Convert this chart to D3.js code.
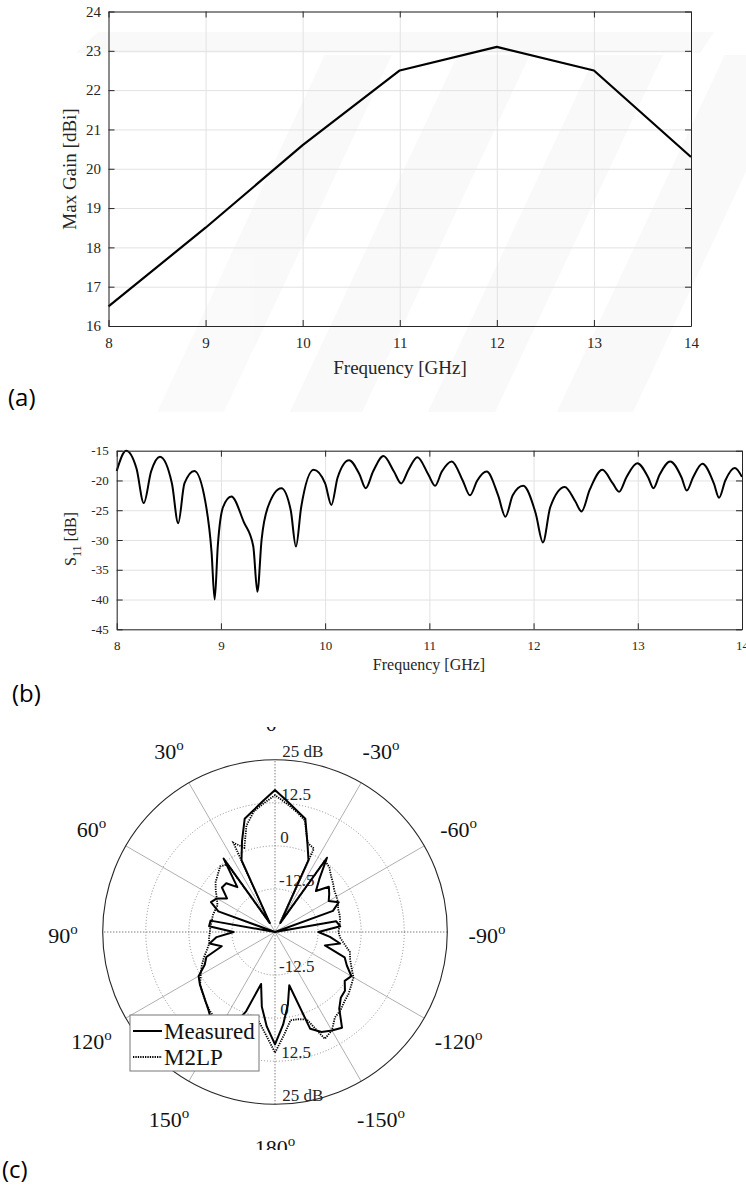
<!DOCTYPE html>
<meta charset="utf-8">
<title>Max gain, S11 and radiation pattern</title>
<style>
  body { margin: 0; background: #fff; }
  svg { display: block; }
  .serif { font-family: "Liberation Serif", "Times New Roman", serif; }
  .panel-tag { font-family: "Open Sans", "Noto Sans", sans-serif; font-size: 24px; }
</style>
<body>
<script src="https://cdnjs.cloudflare.com/ajax/libs/d3/7.8.5/d3.min.js"></script>
<script>
  // (a) max gain vs frequency
  var gainFreq = [8, 9, 10, 11, 12, 13, 14];
  var gainDbi = [16.5, 18.5, 20.6, 22.5, 23.1, 22.5, 20.3];
  var gainTicksX = [8, 9, 10, 11, 12, 13, 14];
  var gainTicksY = [16, 17, 18, 19, 20, 21, 22, 23, 24];

  // (b) S11 vs frequency (peaks, dips and slopes)
  var s11Freq = [8.00, 8.09, 8.19, 8.26, 8.33, 8.415, 8.53, 8.59, 8.65, 8.745,
    8.85, 8.91, 8.94, 8.97, 9.02, 9.10, 9.22, 9.31, 9.35, 9.39, 9.45, 9.58,
    9.67, 9.72, 9.77, 9.89, 10.00, 10.06, 10.12, 10.23, 10.33, 10.39, 10.46,
    10.56, 10.66, 10.73, 10.80, 10.885, 10.99, 11.055, 11.12, 11.215, 11.32,
    11.39, 11.46, 11.55, 11.66, 11.73, 11.80, 11.90, 12.02, 12.09, 12.16,
    12.30, 12.40, 12.46, 12.54, 12.66, 12.76, 12.82, 12.89, 12.995, 13.10,
    13.15, 13.21, 13.31, 13.42, 13.47, 13.53, 13.62, 13.73, 13.78, 13.84,
    13.93, 14.00];
  var s11Db = [-18.4, -15.0, -18.0, -23.8, -18.5, -16.0, -20.5, -27.2, -20.5, -18.4,
    -23.5, -32.0, -40.0, -31.0, -24.5, -22.7, -27.0, -31.0, -38.7, -30.0, -24.5, -21.3,
    -25.0, -31.1, -24.5, -18.2, -20.5, -24.1, -19.5, -16.6, -19.0, -21.3, -18.5,
    -15.9, -18.5, -20.5, -18.2, -16.1, -19.0, -20.9, -18.5, -16.8, -20.0,
    -22.5, -20.0, -18.5, -22.5, -26.1, -22.5, -20.9, -25.5, -30.4, -24.5,
    -21.1, -23.5, -25.2, -21.5, -18.2, -20.5, -21.9, -19.5, -17.1, -19.5,
    -21.3, -19.0, -16.8, -19.5, -21.7, -19.5, -17.2, -20.5, -22.9, -20.0,
    -17.9, -19.4];
  var s11TicksX = [8, 9, 10, 11, 12, 13, 14];
  var s11TicksY = [-45, -40, -35, -30, -25, -20, -15];

  // (c) radiation pattern, angle in degrees (0 at top, positive to the left)
  var patternAngles = [-180, -175, -170, -165, -160, -155, -150, -145, -140, -135,
    -130, -125, -120, -115, -110, -105, -100, -95, -90, -85, -80, -75, -70, -65,
    -60, -55, -50, -45, -40, -35, -30, -25, -20, -15, -10, -5, 0, 5, 10, 15, 20,
    25, 30, 35, 40, 45, 50, 55, 60, 65, 70, 75, 80, 85, 90, 95, 100, 105, 110,
    115, 120, 125, 130, 135, 140, 145, 150, 155, 160, 165, 170, 175];
  var measuredDb = [7.6, 2.0, -3.5, -9.0, 4.9, 7.0, 8.0, 8.9, 4.0, 2.0,
    1.5, -0.3, 0.6, -2.0, -3.5, -10.0, -5.8, -9.0, -12.4, -6.0, -7.0, -25, -7.1, -4.6,
    -7.0, -5.8, -4.6, -8.2, -5.0, 1.3, -22, -2.0, 2.5, 9.0, 10.9, 13.3, 16.2, 13.3, 10.9, 9.0, 3.0,
    -2.0, -22, 1.0, -8.0, -5.0, -4.9, -8.0, -5.5, -4.5, -7.5, -25, -6.0, -5.8, -13.0, -8.0, -5.7, -9.0, -3.8,
    -2.5, 0.6, 1.6, 2.4, 3.5, 4.9, 7.0, 8.0, 6.0, -0.5, -9.4, -3.0, 2.5];
  var m2lpDb = [10.0, 5.0, 1.0, 1.2, 2.0, 9.2, 8.0, 5.3, 4.6, 3.5,
    2.9, 2.0, 1.3, -0.5, -1.8, -2.5, -4.5, -6.0, -6.6, -6.2, -5.8, -5.6, -5.5, -4.8,
    -4.4, -4.0, -3.0, -2.0, -0.5, 0.3, -22, 1.7, 2.6, 8.5, 10.5, 12.5, 14.7, 12.5, 10.5, 7.0, 1.0,
    3.6, -22, -1.0, -0.2, -1.5, -2.5, -4.0, -5.5, -6.6, -6.5, -6.3, -6.4, -6.2, -6.1, -5.8, -5.6, -4.5, -3.0,
    -1.5, -0.1, 1.5, 2.5, 3.5, 4.6, 5.5, 7.0, 9.0, 2.0, 0.3, 1.5, 5.0];
  var ringValues = [-12.5, 0, 12.5, 25];
  var spokeAngles = [0, 30, 60, 90, 120, 150];
  var angleLabels = [0, 30, 60, 90, 120, 150, 180, -150, -120, -90, -60, -30];
  var seriesNames = ["Measured", "M2LP"];

  var W = 746, H = 1189;
  var serif = '"Liberation Serif", "Times New Roman", serif';
  var plain = d => String(d);   // keeps "8" and the ASCII hyphen of "-15"

  var svg = d3.select("body").append("svg")
    .attr("width", W)
    .attr("height", H);

  // generic boxed cartesian plot, MATLAB style
  function cartesian(cfg) {
    var x = d3.scaleLinear().domain(cfg.xDomain).range([cfg.left, cfg.right]);
    var y = d3.scaleLinear().domain(cfg.yDomain).range([cfg.bottom, cfg.top]);
    var g = svg.append("g");
    var w = cfg.right - cfg.left, h = cfg.bottom - cfg.top;

    // grid
    g.append("g")
      .attr("transform", "translate(0," + cfg.bottom + ")")
      .call(d3.axisBottom(x).tickValues(cfg.xTicks).tickSize(-h).tickFormat(""))
      .call(s => s.select(".domain").remove())
      .selectAll("line").attr("stroke", "#e2e2e2");
    g.append("g")
      .attr("transform", "translate(" + cfg.left + ",0)")
      .call(d3.axisLeft(y).tickValues(cfg.yTicks).tickSize(-w).tickFormat(""))
      .call(s => s.select(".domain").remove())
      .selectAll("line").attr("stroke", "#e2e2e2");

    // line
    g.append("path")
      .datum(cfg.xs.map((v, i) => [v, cfg.ys[i]]))
      .attr("fill", "none")
      .attr("stroke", "#000")
      .attr("stroke-width", cfg.lineWidth)
      .attr("stroke-linejoin", "round")
      .attr("d", d3.line().x(d => x(d[0])).y(d => y(d[1])).curve(cfg.curve));

    // axes with inward ticks on all four sides
    var axes = [
      [d3.axisBottom(x).tickValues(cfg.xTicks).tickFormat(plain), "translate(0," + cfg.bottom + ")"],
      [d3.axisTop(x).tickValues(cfg.xTicks).tickFormat(""), "translate(0," + cfg.top + ")"],
      [d3.axisLeft(y).tickValues(cfg.yTicks).tickFormat(plain), "translate(" + cfg.left + ",0)"],
      [d3.axisRight(y).tickValues(cfg.yTicks).tickFormat(""), "translate(" + cfg.right + ",0)"]
    ];
    axes.forEach(function (a, i) {
      var ax = g.append("g")
        .attr("transform", a[1])
        .call(a[0].tickSizeInner(-6).tickSizeOuter(0).tickPadding(i < 2 ? cfg.padX : cfg.padY));
      ax.select(".domain").attr("stroke", "#262626");
      ax.selectAll("line").attr("stroke", "#262626");
      ax.selectAll("text")
        .attr("font-family", serif)
        .attr("font-size", cfg.tickSize)
        .attr("fill", "#262626");
    });
    return { x: x, y: y, g: g };
  }

  // very faint diagonal watermark behind the first panel
  var wm = svg.append("g").attr("fill", "#000").attr("opacity", 0.018);
  wm.append("polygon").attr("points", "76,53 98,32 714,32 700,53");
  [[157, 224], [290, 362], [428, 495], [557, 633]].forEach(function (b) {
    var k = 0.47, y0 = 412, y1 = 55, s = k * (y0 - y1);
    wm.append("polygon").attr("points",
      [[b[0], y0], [b[1], y0], [b[1] + s, y1], [b[0] + s, y1]].join(" "));
  });

  // ---- (a)
  cartesian({
    left: 108.5, right: 691, top: 11.5, bottom: 326,
    xDomain: [8, 14], yDomain: [16, 24],
    xTicks: gainTicksX, yTicks: gainTicksY,
    xs: gainFreq, ys: gainDbi,
    lineWidth: 2.2, curve: d3.curveLinear,
    tickSize: 15, padX: 11, padY: 7.5
  });
  svg.append("text").attr("class", "serif")
    .attr("x", 400).attr("y", 374)
    .attr("text-anchor", "middle").attr("font-size", 19).attr("fill", "#262626")
    .text("Frequency [GHz]");
  svg.append("text").attr("class", "serif")
    .attr("transform", "translate(76,169) rotate(-90)")
    .attr("text-anchor", "middle").attr("font-size", 19).attr("fill", "#262626")
    .text("Max Gain [dBi]");
  svg.append("text").attr("class", "panel-tag").attr("x", 8).attr("y", 406).text("(a)");

  // ---- (b)
  cartesian({
    left: 116.7, right: 742, top: 450.7, bottom: 629.3,
    xDomain: [8, 14], yDomain: [-45, -15],
    xTicks: s11TicksX, yTicks: s11TicksY,
    xs: s11Freq, ys: s11Db,
    lineWidth: 2, curve: d3.curveMonotoneX,
    tickSize: 13, padX: 11, padY: 8
  });
  svg.append("text").attr("class", "serif")
    .attr("x", 429).attr("y", 670)
    .attr("text-anchor", "middle").attr("font-size", 16).attr("fill", "#262626")
    .text("Frequency [GHz]");
  var s11Label = svg.append("text").attr("class", "serif")
    .attr("transform", "translate(76,539) rotate(-90)")
    .attr("text-anchor", "middle").attr("font-size", 16).attr("fill", "#262626");
  s11Label.append("tspan").text("S");
  s11Label.append("tspan").attr("font-size", 12).attr("dy", 5).text("11");
  s11Label.append("tspan").attr("dy", -5).text(" [dB]");
  svg.append("text").attr("class", "panel-tag").attr("x", 12).attr("y", 702).text("(b)");

  // ---- (c) polar
  var cx = 275, cy = 932, R = 172.3;
  var r = d3.scaleLinear().domain([-25, 25]).range([0, R]).clamp(true);
  var rad = d => d * Math.PI / 180;

  svg.append("clipPath").attr("id", "polarClip")
    .append("rect").attr("x", 0).attr("y", 727).attr("width", W).attr("height", 423);
  var pg = svg.append("g").attr("clip-path", "url(#polarClip)");
  var p = pg.append("g").attr("transform", "translate(" + cx + "," + cy + ")");

  // white disc + rings
  p.append("circle").attr("r", R).attr("fill", "#fff");
  p.selectAll(".ring").data(ringValues.slice(0, 3)).enter().append("circle")
    .attr("r", d => r(d)).attr("fill", "none")
    .attr("stroke", "#8c8c8c").attr("stroke-width", 1).attr("stroke-dasharray", "1,2");

  // spokes (axes dotted, others solid)
  spokeAngles.forEach(function (a) {
    var dx = -R * Math.sin(rad(a)), dy = -R * Math.cos(rad(a));
    var axis = a % 90 === 0;
    p.append("line")
      .attr("x1", -dx).attr("y1", -dy).attr("x2", dx).attr("y2", dy)
      .attr("stroke", axis ? "#444" : "#9a9a9a")
      .attr("stroke-width", axis ? 1 : 0.8)
      .attr("stroke-dasharray", axis ? "1,2" : null);
  });
  p.append("circle").attr("r", R).attr("fill", "none")
    .attr("stroke", "#262626").attr("stroke-width", 1.1);

  // ring labels, above the ring at top and bottom
  ringValues.forEach(function (v) {
    [-1, 1].forEach(function (s) {
      p.append("text").attr("class", "serif")
        .attr("x", 3 + r(v) * 0.025)
        .attr("y", s * r(v) - 3)
        .attr("font-size", 17).attr("fill", "#262626")
        .text(v === 25 ? "25 dB" : String(v));
    });
  });

  // pattern lines
  var radial = d3.lineRadial()
    .angle(d => -rad(d[0]))
    .radius(d => r(d[1]))
    .curve(d3.curveLinearClosed);
  p.append("path")
    .datum(patternAngles.map((a, i) => [a, m2lpDb[i]]))
    .attr("d", radial).attr("fill", "none")
    .attr("stroke", "#000").attr("stroke-width", 1.8).attr("stroke-dasharray", "1.3,1.1");
  p.append("path")
    .datum(patternAngles.map((a, i) => [a, measuredDb[i]]))
    .attr("d", radial).attr("fill", "none")
    .attr("stroke", "#000").attr("stroke-width", 2).attr("stroke-linejoin", "round");

  // angle labels
  angleLabels.forEach(function (a) {
    var t = p.append("text").attr("class", "serif")
      .attr("x", -212 * Math.sin(rad(a)))
      .attr("y", -212 * Math.cos(rad(a)) + 11)
      .attr("text-anchor", "middle").attr("font-size", 22).attr("fill", "#111");
    t.append("tspan").text(a);
    t.append("tspan").attr("font-size", 15).attr("dy", -9).text("o");
  });

  // legend
  var lg = pg.append("g").attr("transform", "translate(130,1015)");
  lg.append("rect").attr("width", 129).attr("height", 56)
    .attr("fill", "#fff").attr("stroke", "#777").attr("stroke-width", 1);
  seriesNames.forEach(function (name, i) {
    var yy = 16 + i * 26;
    lg.append("line").attr("x1", 3).attr("x2", 32).attr("y1", yy).attr("y2", yy)
      .attr("stroke", "#000").attr("stroke-width", i ? 1.8 : 2)
      .attr("stroke-dasharray", i ? "1.3,1.1" : null);
    lg.append("text").attr("class", "serif")
      .attr("x", 34).attr("y", yy + 7.5)
      .attr("font-size", 23).attr("fill", "#111").text(name);
  });

  svg.append("text").attr("class", "panel-tag").attr("x", 2).attr("y", 1178).text("(c)");
</script>
</body>
